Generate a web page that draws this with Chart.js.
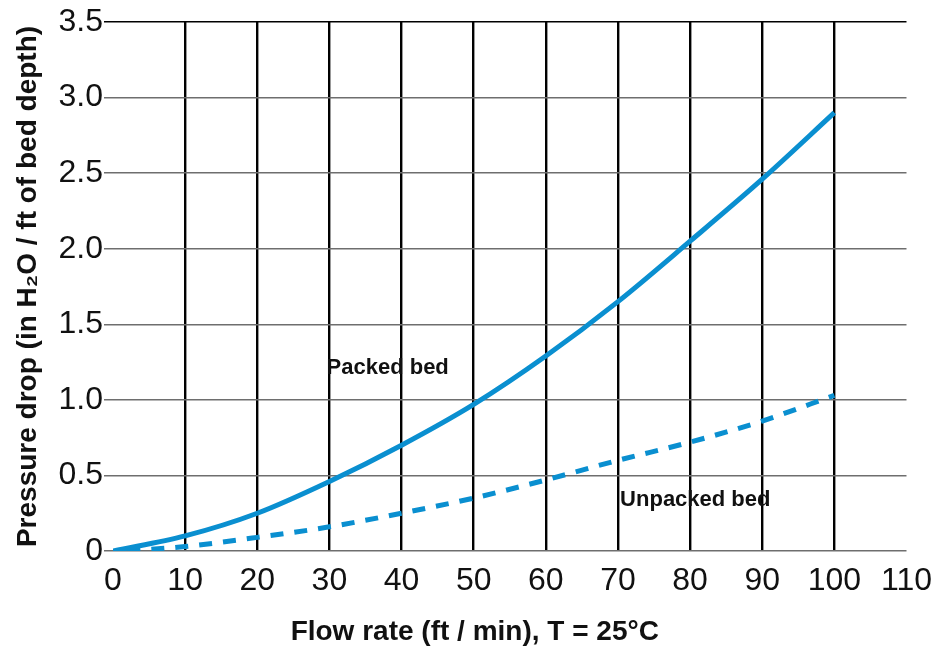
<!DOCTYPE html>
<html>
<head>
<meta charset="utf-8">
<script src="https://cdn.jsdelivr.net/npm/chart.js@4"></script>
<style>
  html, body { margin: 0; padding: 0; background: #fff; }
  #wrap { width: 943px; height: 646px; }
</style>
</head>
<body>
<div id="wrap"><canvas id="myChart"></canvas></div>
<script>
'use strict';

// DATA
let flowRates = [0, 10, 20, 30, 40, 50, 60, 70, 80, 90, 100];
let packedBed = [0, 0.1, 0.25, 0.46, 0.7, 0.97, 1.29, 1.65, 2.05, 2.46, 2.9];
let unpackedFlow = [2, 10, 20, 30, 40, 50, 60, 70, 80, 90, 100];
let unpackedBed = [0, 0.03, 0.09, 0.16, 0.25, 0.35, 0.47, 0.6, 0.72, 0.86, 1.03];
let xTicks = [0, 10, 20, 30, 40, 50, 60, 70, 80, 90, 100, 110];
let yTicks = [0, 0.5, 1.0, 1.5, 2.0, 2.5, 3.0, 3.5];

// curve labels, placed in data units
let curveLabels = [
  { text: 'Packed bed', x: 29.6, y: 1.21 },
  { text: 'Unpacked bed', x: 70.3, y: 0.34 }
];

const blue = '#0a8fd0';
const fontFam = '"Liberation Sans", Arial, sans-serif';

function toPoints(xs, ys) {
  let pts = [];
  for (let i = 0; i < xs.length; i++) {
    pts.push({ x: xs[i], y: ys[i] });
  }
  return pts;
}

// draws the in-plot text labels
const curveLabelPlugin = {
  id: 'curveLabels',
  afterDatasetsDraw(chart) {
    let ctx = chart.ctx;
    let xs = chart.scales.x;
    let ys = chart.scales.y;
    ctx.save();
    ctx.font = 'bold 22px ' + fontFam;
    ctx.fillStyle = '#111';
    ctx.textAlign = 'left';
    ctx.textBaseline = 'middle';
    curveLabels.forEach(function (lbl) {
      ctx.fillText(lbl.text, xs.getPixelForValue(lbl.x), ys.getPixelForValue(lbl.y));
    });
    ctx.restore();
  }
};

const data = {
  datasets: [{
    label: 'Packed bed',
    data: toPoints(flowRates, packedBed),
    borderColor: blue,
    borderWidth: 5,
    pointRadius: 0,
    cubicInterpolationMode: 'monotone',
    fill: false
  },
  {
    label: 'Unpacked bed',
    data: toPoints(unpackedFlow, unpackedBed),
    borderColor: blue,
    borderWidth: 5,
    borderDash: [13, 11],
    pointRadius: 0,
    cubicInterpolationMode: 'monotone',
    fill: false
  }]
};

const tickFont = { family: fontFam, size: 32 };
const titleFont = { family: fontFam, size: 28, weight: 'bold', lineHeight: 1 };

const config = {
  type: 'line',
  data: data,
  options: {
    responsive: true,
    maintainAspectRatio: false,
    animation: false,
    layout: { padding: { top: 22, right: 33, left: 0, bottom: 0 } },
    plugins: {
      legend: { display: false },
      tooltip: { enabled: false }
    },
    scales: {
      x: {
        type: 'linear',
        min: 0,
        max: 110,
        afterBuildTicks: function (axis) {
          axis.ticks = xTicks.map(function (v) { return { value: v }; });
        },
        afterFit: function (axis) { axis.height = 95; },
        ticks: { color: '#111', font: tickFont, padding: 11, maxRotation: 0, autoSkip: false },
        grid: {
          color: function (c) {
            let v = c.tick ? c.tick.value : 0;
            return (v === 0 || v === 110) ? 'rgba(0,0,0,0)' : '#000';
          },
          lineWidth: 2.4,
          drawTicks: false
        },
        border: { display: false },
        title: {
          display: true,
          // trailing spaces nudge the centred title a bit to the left, like the original
          text: 'Flow rate (ft / min), T = 25\u00B0C\u2003\u2003\u2002',
          color: '#111',
          font: titleFont,
          padding: { top: 0, bottom: 0 }
        }
      },
      y: {
        min: 0,
        max: 3.5,
        afterBuildTicks: function (axis) {
          axis.ticks = yTicks.map(function (v) { return { value: v }; });
        },
        afterFit: function (axis) { axis.width = 113; },
        ticks: {
          color: '#111',
          font: tickFont,
          padding: 1,
          autoSkip: false,
          callback: function (v) { return v === 0 ? '0' : v.toFixed(1); }
        },
        grid: {
          color: function (c) {
            let v = c.tick ? c.tick.value : 0;
            return v === 3.5 ? '#000' : '#6e6e6e';
          },
          lineWidth: 1.5,
          drawTicks: true,
          tickLength: 9
        },
        border: { display: false },
        title: {
          display: true,
          text: 'Pressure drop (in H\u2082O / ft of bed depth)',
          color: '#111',
          font: titleFont,
          padding: { top: 14, bottom: 0 }
        }
      }
    }
  },
  plugins: [curveLabelPlugin]
};

let canvasChart = document.getElementById('myChart');
const myChart = new Chart(canvasChart, config);
</script>
</body>
</html>
